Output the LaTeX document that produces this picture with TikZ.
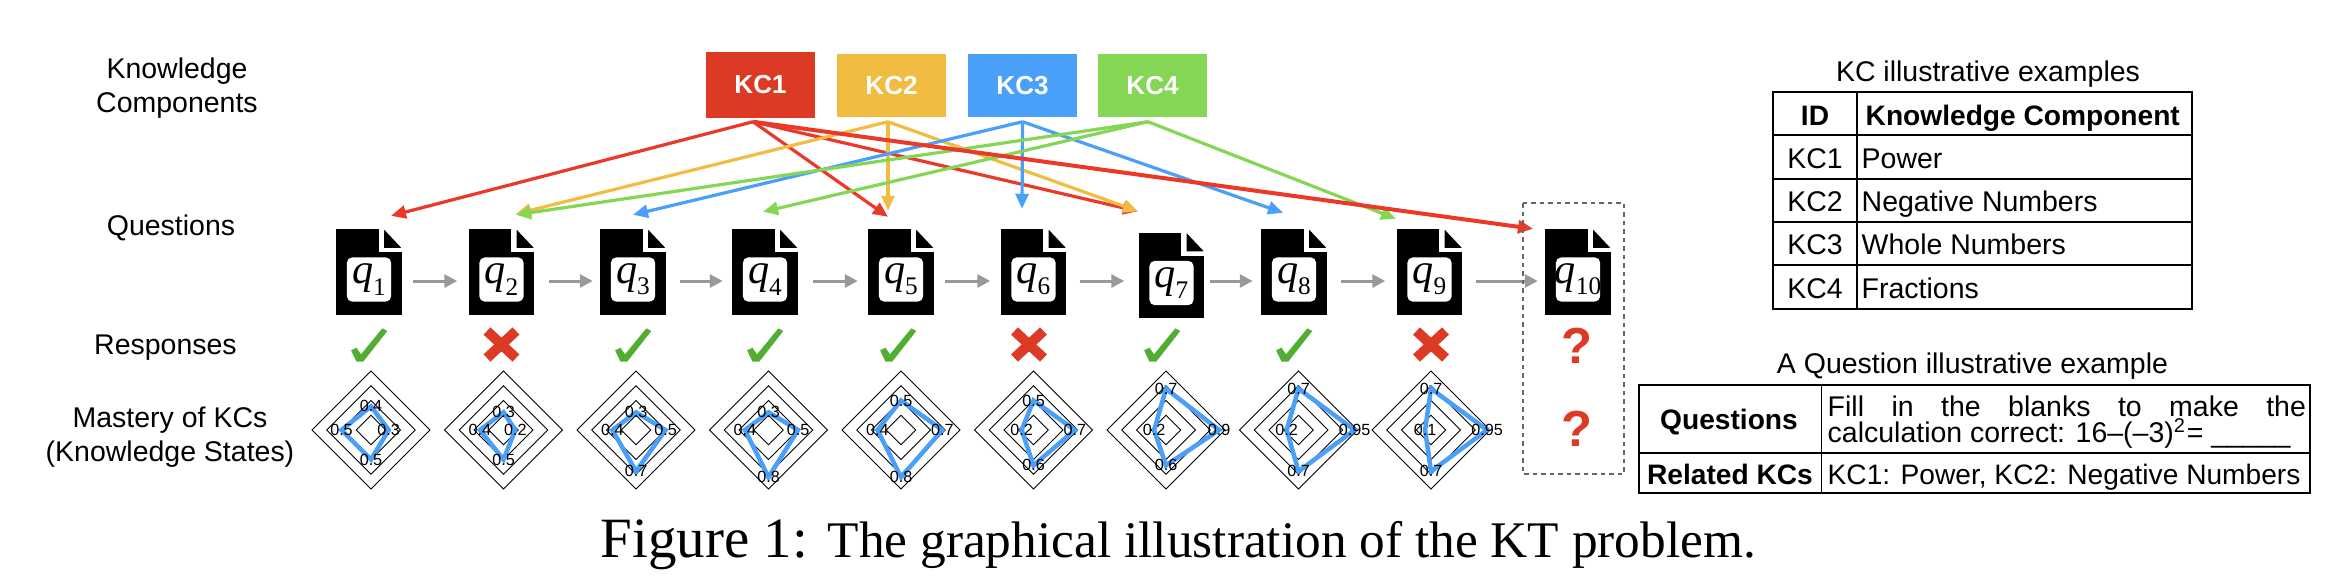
\documentclass[tikz,border=0pt]{standalone}
\usepackage{fontspec}
\setmainfont{Liberation Sans}
\newfontfamily\capfont{Liberation Serif}
\usetikzlibrary{arrows.meta}
\definecolor{kcred}{HTML}{DD3A26}
\definecolor{kcyellow}{HTML}{F0BC41}
\definecolor{kcblue}{HTML}{4AA0F9}
\definecolor{kcgreen}{HTML}{84D654}
\definecolor{linkred}{HTML}{EC3829}
\definecolor{tickgreen}{HTML}{52AE32}
\definecolor{flowgray}{HTML}{999999}
\definecolor{boxgray}{HTML}{666666}
\newcommand{\qtext}[1]{\makebox[4.4mm][c]{{\fontsize{12}{13}\capfont\itshape q}\raisebox{-3.2pt}{\fontsize{7.2}{8}\capfont #1}}}
\tikzset{
  lbl/.style={inner sep=0pt, font=\fontsize{8.1}{9.7}\selectfont, align=center},
  cell/.style={inner sep=0pt, font=\fontsize{8.1}{9.7}\selectfont},
  cellhead/.style={inner sep=0pt, font=\fontsize{8.0}{9.7}\selectfont\bfseries},
  kcbox/.style={inner sep=0pt, minimum width=10.9mm, text=white, font=\fontsize{7.4}{9}\selectfont\bfseries},
  qdoc/.style={inner sep=0pt, fill=black, minimum width=6.5mm, minimum height=8.5mm},
  qtag/.style={inner sep=0pt, fill=white, rounded corners=0.5mm, minimum width=4.4mm, minimum height=4.4mm},
  kclink/.style={line width=0.32mm, -{Triangle[length=1.5mm,width=1.3mm]}},
  flow/.style={flowgray, line width=0.3mm, -{Triangle[length=1.3mm,width=1.3mm]}},
  ring/.style={black, line width=0.1mm, line join=miter},
  mastery/.style={kcblue, line width=0.45mm, line join=miter},
  valtext/.style={inner sep=0pt, font=\fontsize{4.6}{5}\selectfont},
  crossmark/.style={kcred, line width=1.0mm},
  rule/.style={black, line width=0.17mm}
}
\begin{document}
\begin{tikzpicture}[x=0.01cm, y=-0.01cm]
\useasboundingbox (0,0) rectangle (2350,584);

% Row titles
\node[lbl] (rowkc) at (177,88) {Knowledge\\Components};
\node[lbl, anchor=base] (rowq) at (171,235) {Questions};
\node[lbl, anchor=base] (rowr) at (165.5,354) {Responses};
\node[lbl] (rowm) at (170,437) {Mastery of KCs\\(Knowledge States)};

% Knowledge components
\node[kcbox, fill=kcred, minimum height=6.6mm] (KC1) at (760.5,85) {KC1};
\node[kcbox, fill=kcyellow, minimum height=6.3mm] (KC2) at (891.5,85.5) {KC2};
\node[kcbox, fill=kcblue, minimum height=6.3mm] (KC3) at (1022.5,85.5) {KC3};
\node[kcbox, fill=kcgreen, minimum height=6.3mm] (KC4) at (1152.5,85.5) {KC4};
\coordinate (out1) at ([shift={(-7.5,3)}]KC1.south);
\coordinate (out2) at ([shift={(-3.5,4)}]KC2.south);
\coordinate (out3) at ([shift={(0,4)}]KC3.south);
\coordinate (out4) at ([shift={(-4.5,4)}]KC4.south);

% Question sheets
\foreach \n/\x/\y in {1/369/272, 2/501.5/272, 3/633/272, 4/765/272, 5/901/272, 6/1033.5/272, 7/1171.5/275.5, 8/1294/272, 9/1429.5/272, 10/1578/272} {
    \node[qdoc] (q\n) at (\x,\y) {};
    \fill[white] ([xshift=-0.1mm]q\n.north east) ++(-22.5,-1) rectangle ++(24,24.5);
    \fill[black] (q\n.north east) ++(-18,1) -- ++(0,18) -- ++(17,0) -- cycle;
    \node[qtag] (tag\n) at (\x,\y+7.5) {\qtext{\n}};
}

% Links from components to questions
\foreach \k/\q/\dx/\dy/\c in {1/1/22/-13/linkred, 1/5/-13/-12/linkred, 1/7/-33.5/-21/linkred,
    2/2/14.5/-15/kcyellow, 2/5/-13/-18/kcyellow, 2/7/-33.5/-21/kcyellow,
    3/3/0/-14/kcblue, 3/6/-11.5/-20/kcblue, 3/8/-11/-16/kcblue,
    4/2/14.5/-14/kcgreen, 4/4/-2/-17/kcgreen, 4/9/-33.5/-10/kcgreen} {
    \draw[kclink, color=\c] (out\k) -- ([shift={(\dx,\dy)}]q\q.north);
}
\draw[kclink, color=linkred, line width=0.4mm] (out1) -- ([shift={(-45,0)}]q10.north);

% Sequence arrows
\coordinate (flowline) at (0,281);
\foreach \a/\b/\sa/\sb in {1/2/1.1/1.1, 2/3/1.4/0.7, 3/4/1.4/0.9, 4/5/1.5/1.0, 5/6/1.1/1.0, 6/7/1.3/1.4, 7/8/0.5/0.8, 8/9/1.4/1.1, 9/10/1.3/0.7} {
    \draw[flow, shorten <=\sa mm, shorten >=\sb mm] (q\a.east |- flowline) -- (q\b.west |- flowline);
}

% Unseen question
\draw[boxgray, line width=0.25mm, dash pattern=on 0.45mm off 0.4mm] (1523,203) rectangle (1624,474);
\node[text=kcred, inner sep=0pt, font=\fontsize{14.4}{16}\selectfont\bfseries] (ask1) at (1577,345.5) {?};
\node[text=kcred, inner sep=0pt, font=\fontsize{14.4}{16}\selectfont\bfseries] (ask2) at (1577,428.5) {?};

% Responses
\foreach \x in {369,633,765,898,1162,1294} {
    \fill[tickgreen, shift={(\x,345)}] (-17.9,5.3) -- (-12.5,2.7) -- (-8,9.3) -- (13.4,-16.7) -- (18.3,-14) -- (-5.8,16.7) -- (-12.5,16.7) -- cycle;
}
\foreach \x in {501.5,1029,1431} {
    \draw[crossmark] (\x-14.5,331) -- (\x+14.5,358);
    \draw[crossmark] (\x+14.5,331) -- (\x-14.5,358);
}

% Knowledge states (up, right, down, left)
\foreach \i/\cx/\vu/\vr/\vd/\vl in {1/371/0.4/0.3/0.5/0.5, 2/503.5/0.3/0.2/0.5/0.4, 3/636/0.3/0.5/0.7/0.4, 4/768.5/0.3/0.5/0.8/0.4, 5/901/0.5/0.7/0.8/0.4, 6/1033.5/0.5/0.7/0.6/0.2, 7/1166/0.7/0.9/0.6/0.2, 8/1298.5/0.7/0.95/0.7/0.2, 9/1431/0.7/0.95/0.7/0.1} {
    \foreach \r in {14.75,29.5,44.25,59} {
        \draw[ring] (\cx,430-\r) -- (\cx+\r,430) -- (\cx,430+\r) -- (\cx-\r,430) -- cycle;
    }
    \coordinate (up\i) at (\cx,430-59*\vu);
    \coordinate (rt\i) at (\cx+59*\vr,430);
    \coordinate (dn\i) at (\cx,430+59*\vd);
    \coordinate (lf\i) at (\cx-59*\vl,430);
    \draw[mastery] (up\i) -- (rt\i) -- (dn\i) -- (lf\i) -- cycle;
    \node[valtext] (vu\i) at (up\i) {\vu};
    \node[valtext] (vr\i) at (rt\i) {\vr};
    \node[valtext] (vd\i) at (dn\i) {\vd};
    \node[valtext] (vl\i) at (lf\i) {\vl};
}

% KC table
\node[cell, anchor=base] (kctitle) at (1988,81) {KC illustrative examples};
\draw[rule] (1773,92) rectangle (2192,309);
\draw[rule] (1857,92) -- (1857,309);
\foreach \y in {135,179,222,265} {
    \draw[rule] (1773,\y) -- (2192,\y);
}
\node[cellhead, anchor=base] (idhead) at (1815,125) {ID};
\node[cellhead, anchor=base west] (kchead) at (1865,125) {Knowledge Component};
\foreach \n/\t/\y in {1/Power/168, 2/Negative Numbers/211, 3/Whole Numbers/254, 4/Fractions/298} {
    \node[cell, anchor=base] (id\n) at (1815,\y) {KC\n};
    \node[cell, anchor=base west] (name\n) at (1861,\y) {\t};
}

% Question table
\node[cell, anchor=base] (qtitle) at (1972.5,373) {A Question illustrative example};
\draw[rule] (1639,385) rectangle (2310,493);
\draw[rule] (1821.5,385) -- (1821.5,493);
\draw[rule] (1639,453) -- (2310,453);
\node[cellhead, anchor=base] (qhead) at (1729,429) {Questions};
\node[cellhead, anchor=base] (relhead) at (1730,484) {Related KCs};
\node[inner sep=0pt, anchor=north west, text width=47.8mm, align=justify, font=\fontsize{8.1}{7.4}\selectfont] (qbody) at (1827,395) {Fill in the blanks to make the \mbox{calculation} correct: 16--(--3)\textsuperscript{2}= \_\_\_\_\_};
\node[cell, anchor=base west, font=\fontsize{8.0}{9.7}\selectfont] (relbody) at (1827,484) {KC1: Power, KC2: Negative Numbers};

% Caption
\node[inner sep=0pt, anchor=base west, font=\fontsize{16.2}{18}\capfont] (capfig) at (600,557) {Figure 1:};
\node[inner sep=0pt, anchor=base west, font=\fontsize{14.6}{18}\capfont] (captext) at (827,557) {The graphical illustration of the KT problem.};
\end{tikzpicture}
\end{document}
